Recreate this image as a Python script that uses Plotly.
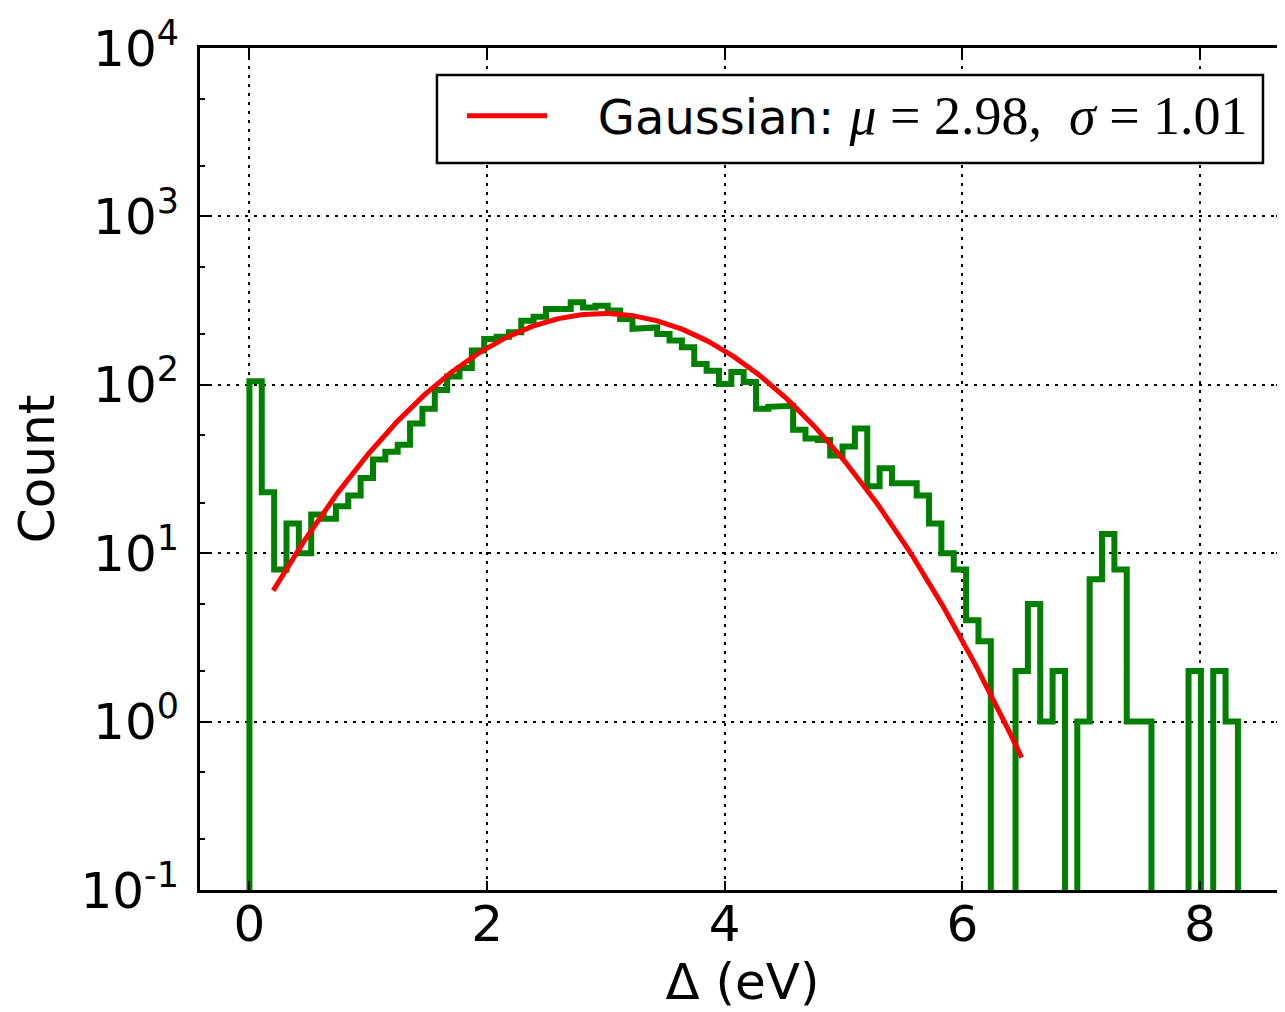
import numpy as np
import plotly.graph_objects as go

# ---- data ----
bin_start = 0.0
bin_width = 0.104
counts = [105, 23, 8, 15, 10, 17, 16, 19, 22, 28,
          36, 40, 44, 59, 72, 93, 112, 126, 160, 187,
          193, 205, 240, 254, 282, 282, 309, 288, 295, 276,
          246, 215, 219, 200, 183, 167, 133, 121, 101, 119,
          104, 72, 74, 75, 54, 48, 47, 38, 43, 55,
          25, 32, 26, 26, 22, 15, 10, 8, 4, 3,
          0, 0, 2, 5, 1, 2, 0, 1, 7, 13,
          8, 1, 1, 0, 0, 0, 2, 0, 2, 1]

fit_mu = 2.98
fit_sigma = 1.01
fit_amp = 265.0
fit_xmin, fit_xmax = 0.2, 6.5

y_tick_vals = [0.1, 1, 10, 100, 1000, 10000]
y_tick_text = ["10<sup>-1</sup>", "10<sup>0</sup>", "10<sup>1</sup>",
               "10<sup>2</sup>", "10<sup>3</sup>", "10<sup>4</sup>"]
x_tick_vals = [0, 2, 4, 6, 8]

# ---- build step outline of the histogram ----
n = len(counts)
edges = bin_start + bin_width * np.arange(n + 1)
floor = 1e-4  # below axis -> drawn to the bottom like matplotlib
sx, sy = [edges[0]], [floor]
for i, c in enumerate(counts):
    v = c if c > 0 else floor
    sx += [edges[i], edges[i + 1]]
    sy += [v, v]
sx.append(edges[-1])
sy.append(floor)

gx = np.linspace(fit_xmin, fit_xmax, 300)
gy = fit_amp * np.exp(-(gx - fit_mu) ** 2 / (2 * fit_sigma ** 2))

fig = go.Figure()
fig.add_trace(go.Scatter(x=sx, y=sy, mode="lines",
                         line=dict(color="#008000", width=6),
                         showlegend=False, hoverinfo="skip"))
fig.add_trace(go.Scatter(
    x=gx, y=gy, mode="lines", line=dict(color="#ff0000", width=5),
    name=("&nbsp;&nbsp;&nbsp;Gaussian: <span style=\"font-family:'Liberation Serif';font-size:54px\">"
          "<i>μ</i> = 2.98,  <i>σ</i> = 1.01</span>")))

# legend frame (drawn as a box behind the legend entry)
fig.add_shape(type="rect", xref="paper", yref="paper",
              x0=0.2184, x1=0.9797, y0=0.8634, y1=0.9679,
              line=dict(color="black", width=2.5), fillcolor="white",
              layer="above")

font_main = "DejaVu Sans"
fig.update_layout(
    width=1277, height=1004,
    margin=dict(l=192, r=0, t=40, b=122),
    plot_bgcolor="white", paper_bgcolor="white",
    font=dict(family=font_main, size=50, color="black"),
    showlegend=True,
    legend=dict(x=0.2415, y=0.9644, xanchor="left", yanchor="top",
                borderwidth=0, bgcolor="rgba(0,0,0,0)",
                font=dict(size=48), itemwidth=80),
)
fig.update_xaxes(
    range=[-0.416, 8.716], tickvals=x_tick_vals, automargin=False,
    showline=True, linecolor="black", linewidth=3, mirror="allticks",
    ticks="inside", ticklen=9, tickwidth=2, tickcolor="black",
    showgrid=True, gridcolor="black", gridwidth=2, griddash="3px,6px",
    zeroline=False, tickfont=dict(size=50), ticklabelstandoff=-12,
    title=dict(text="Δ (eV)", standoff=6, font=dict(size=50)),
)
fig.update_yaxes(
    type="log", range=[-1, 4], tickvals=y_tick_vals, ticktext=y_tick_text,
    automargin=False,
    showline=True, linecolor="black", linewidth=3, mirror="allticks",
    ticks="inside", ticklen=9, tickwidth=2, tickcolor="black",
    minor=dict(ticks="inside", ticklen=5, tickwidth=1.5, tickcolor="black",
               showgrid=False),
    showgrid=True, gridcolor="black", gridwidth=2, griddash="3px,6px",
    zeroline=False, tickfont=dict(size=50), ticklabelstandoff=8,
    title=dict(text="Count", standoff=22, font=dict(size=50)),
)

fig.write_html("out.html")
